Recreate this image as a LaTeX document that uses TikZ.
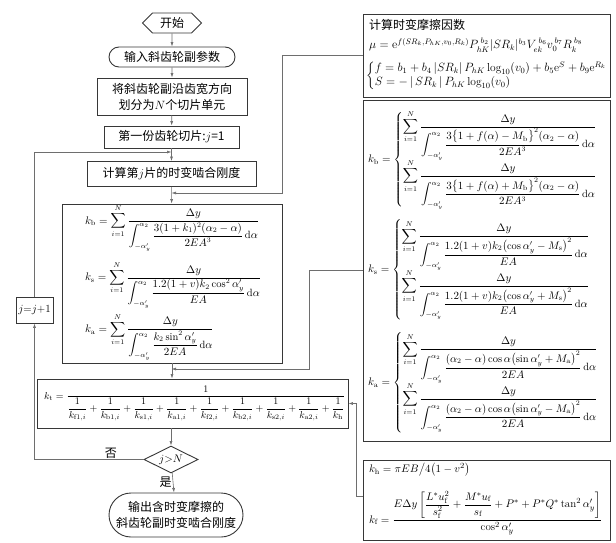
\documentclass[tikz,border=0pt]{standalone}
\usepackage{amsmath,amssymb}
\usepackage{fontspec}
\newfontfamily\cjk{Noto Sans CJK SC}
\usetikzlibrary{arrows.meta,positioning,shapes.geometric,shapes.misc,shapes.symbols}
\definecolor{edge}{RGB}{55,55,55}
\definecolor{wire}{RGB}{110,110,110}
\newcommand{\slicesum}[2]{\displaystyle\sum_{i=1}^{N}\frac{\Delta y}{\displaystyle\int_{-\alpha'_y}^{\alpha_2}\frac{#1}{#2}\,\mathrm{d}\alpha}}
\tikzset{
  stepbox/.style={draw=edge, line width=0.9pt, inner sep=2pt, align=center, font=\cjk\fontsize{12}{16}\selectfont},
  startnode/.style={stepbox, signal, signal to=east and west, minimum width=59pt, minimum height=20pt},
  term/.style={stepbox, rounded rectangle},
  test/.style={stepbox, diamond, aspect=2, inner sep=0.5pt, font=\fontsize{11}{13}\selectfont},
  fbox/.style={draw=edge, line width=0.9pt},
  eq/.style={inner sep=0pt, anchor=west, font=\fontsize{#1}{#1}\selectfont},
  flow/.style={-{Latex[length=4.5pt,width=3pt]}, draw=wire, line width=0.6pt},
  back/.style={-{Latex[length=4.5pt,width=3pt]}, draw=wire, line width=0.6pt},
  lab/.style={font=\cjk\fontsize{12}{14}\selectfont, inner sep=1pt},
}
\begin{document}
\begin{tikzpicture}[x=1pt,y=-1pt]
  \useasboundingbox (0,0) rectangle (616,543);
  % main flow
  \node[startnode] (start) at (172,23) {开始};
  \node[term, minimum width=130pt, minimum height=20pt] (input) at (172,57) {输入斜齿轮副参数};
  \node[stepbox, minimum width=150pt, minimum height=37pt] (divide) at (172,96.5) {将斜齿轮副沿齿宽方向\\划分为$N$个切片单元};
  \node[stepbox, minimum width=135pt, minimum height=22pt] (first) at (171.5,137) {第一份齿轮切片:$j$=1};
  \node[stepbox, minimum width=169pt, minimum height=25pt] (calc) at (171.5,174) {计算第$j$片的时变啮合刚度};
  \node[fbox, minimum width=220pt, minimum height=159pt] (form) at (172,283.5) {};
  \node[eq=10.5] (fb) at (85,228) {$k_{\mathrm b}=\slicesum{3(1+k_1)^2(\alpha_2-\alpha)}{2EA^3}$};
  \node[eq=10.5] (fs) at (85,285) {$k_{\mathrm s}=\slicesum{1.2(1+v)k_2\cos^2\alpha'_y}{EA}$};
  \node[eq=10.5] (fa) at (85,337) {$k_{\mathrm a}=\slicesum{k_2\sin^2\alpha'_y}{2EA}$};
  \node[fbox, minimum width=311pt, minimum height=49pt] (kt) at (192.5,403.5) {};
  \node[eq=10] (ftot) at (44,403.5) {$k_{\mathrm t}=\dfrac{1}{\dfrac{1}{k_{\mathrm{f1},i}}+\dfrac{1}{k_{\mathrm{b1},i}}+\dfrac{1}{k_{\mathrm{s1},i}}+\dfrac{1}{k_{\mathrm{a1},i}}+\dfrac{1}{k_{\mathrm{f2},i}}+\dfrac{1}{k_{\mathrm{b2},i}}+\dfrac{1}{k_{\mathrm{s2},i}}+\dfrac{1}{k_{\mathrm{a2},i}}+\dfrac{1}{k_{\mathrm h}}}$};
  \node[test, minimum width=54pt, minimum height=27pt] (check) at (171,459.5) {$j{>}N$};
  \node[term, minimum width=138pt, minimum height=44pt] (output) at (176,515) {输出含时变摩擦的\\斜齿轮副时变啮合刚度};
  \node[stepbox, font=\fontsize{11}{13}\selectfont, minimum width=37pt, minimum height=26pt] (inc) at (34.5,310) {$j$=$j$+1};

  % right column
  \node[fbox, minimum width=247pt, minimum height=83pt] (fric) at (486.5,55.5) {};
  \node[font=\cjk\fontsize{12}{14}\selectfont, inner sep=0pt, anchor=west] (frictitle) at (369,25) {计算时变摩擦因数};
  \node[eq=12] (mu) at (369,45) {$\mu=\mathrm{e}^{f(SR_k,P_{hK},v_0,R_k)}P_{hK}^{\;b_2}|SR_k|^{b_3}V_{ek}^{\;b_6}v_0^{\,b_7}R_k^{\;b_8}$};
  \node[eq=11.5] (fS) at (366,76) {$\begin{cases}f=b_1+b_4\left|SR_k\right|P_{hK}\log_{10}(v_0)+b_5\mathrm{e}^{S}+b_9\mathrm{e}^{R_k}\\ S=-\left|\,SR_k\,\right|P_{hK}\log_{10}(v_0)\end{cases}$};

  \node[fbox, minimum width=247pt, minimum height=341pt] (kbox) at (486.5,270.5) {};
  \node[eq=10.5] (rb) at (368,160) {$k_{\mathrm b}=\begin{cases}\slicesum{3\bigl\{1+f(\alpha)-M_{\mathrm b}\bigr\}^2(\alpha_2-\alpha)}{2EA^3}\\[2pt]\slicesum{3\bigl\{1+f(\alpha)+M_{\mathrm b}\bigr\}^2(\alpha_2-\alpha)}{2EA^3}\end{cases}$};
  \node[eq=10.5] (rs) at (368,270) {$k_{\mathrm s}=\begin{cases}\slicesum{1.2(1+v)k_2\bigl(\cos\alpha'_y-M_{\mathrm s}\bigr)^2}{EA}\\[2pt]\slicesum{1.2(1+v)k_2\bigl(\cos\alpha'_y+M_{\mathrm s}\bigr)^2}{EA}\end{cases}$};
  \node[eq=10.5] (ra) at (368,383) {$k_{\mathrm a}=\begin{cases}\slicesum{(\alpha_2-\alpha)\cos\alpha\bigl(\sin\alpha'_y+M_{\mathrm a}\bigr)^2}{2EA}\\[2pt]\slicesum{(\alpha_2-\alpha)\cos\alpha\bigl(\sin\alpha'_y-M_{\mathrm a}\bigr)^2}{2EA}\end{cases}$};

  \node[fbox, minimum width=247pt, minimum height=80pt] (khbox) at (486.5,500) {};
  \node[eq=11] (kh) at (369,470) {$k_{\mathrm h}=\pi EB\big/4\bigl(1-v^2\bigr)$};
  \node[eq=11] (kf) at (369,513) {$k_{\mathrm f}=\dfrac{E\Delta y\left[\dfrac{L^*u_{\mathrm f}^2}{s_{\mathrm f}^2}+\dfrac{M^*u_{\mathrm f}}{s_{\mathrm f}}+P^*+P^*Q^*\tan^2\alpha'_y\right]}{\cos^2\alpha'_y}$};

  % flow arrows
  \draw[flow] (start) -- (input);
  \draw[flow] (input) -- (divide);
  \draw[flow] (divide) -- (first);
  \draw[flow] (first) -- (calc);
  \draw[flow] (calc) -- (form);
  \draw[flow] (form) -- (form |- kt.north);
  \draw[flow] (kt.south -| check.north) -- (check);
  \draw[flow] (check) -- node[lab, left, pos=.45]{是} (output);
  \coordinate (nobend) at (inc.south |- check.west);
  \draw[flow] (check.west) -- node[lab, above, pos=.3]{否} (nobend) -- (inc.south);
  \coordinate (loopin) at (calc.north |- 0,152);
  \draw[flow] (inc.north) |- (loopin);

  % links from the right column
  \coordinate (link1) at (282,55.5);
  \coordinate (join1) at (calc.south |- 0,193);
  \draw[back] (fric.west) -- (link1) |- (join1);
  \coordinate (link2) at (309,270.5);
  \coordinate (join2) at (calc.south |- 0,369);
  \draw[back] (kbox.west) -- (link2) |- (join2);
  \coordinate (link3) at (356,496);
  \draw[back] (khbox.west |- link3) -- (link3) |- (kt.east);
\end{tikzpicture}
\end{document}
